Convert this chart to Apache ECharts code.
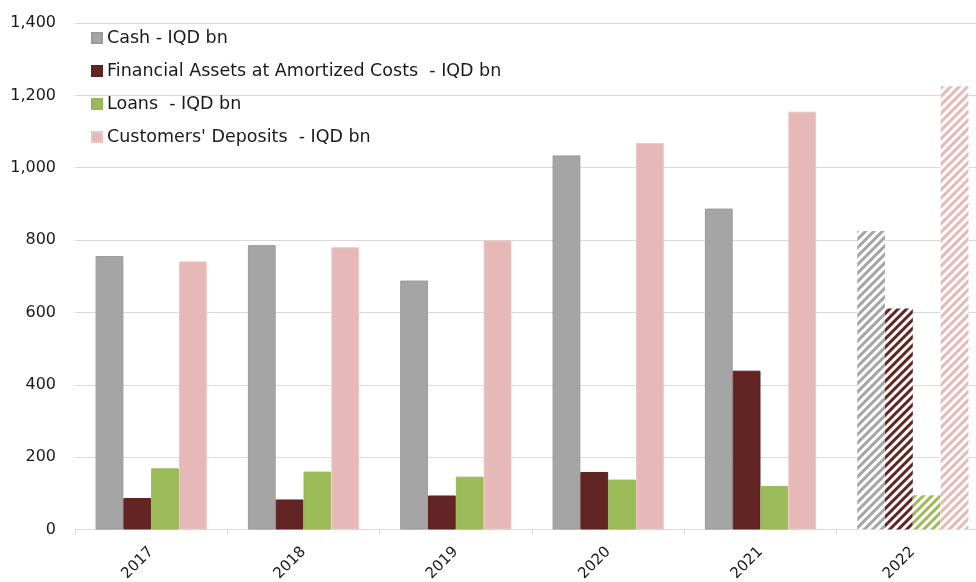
<!DOCTYPE html>
<html>
<head>
<meta charset="utf-8">
<script src="https://cdn.jsdelivr.net/npm/echarts@6/dist/echarts.min.js"></script>
<style>html,body{margin:0;padding:0;background:#fff}#c{width:976px;height:582px}</style>
</head>
<body>
<div id="c"></div>
<script>
const categories = ['2017', '2018', '2019', '2020', '2021', '2022'];
const seriesNames = ['Cash - IQD bn', 'Financial Assets at Amortized Costs  - IQD bn', 'Loans  - IQD bn', "Customers' Deposits  - IQD bn"];
const cashValues = [756, 786, 688, 1034, 887, 825];
const financialAssetsValues = [87, 83, 94, 159, 439, 611];
const loansValues = [169, 160, 146, 138, 120, 95];
const depositsValues = [741, 780, 799, 1068, 1155, 1225];
const hatchedCategory = '2022';
const colors = ['#a5a5a5', '#632523', '#9bbb59', '#e6b8b7'];
const borderColors = ['#9a9a9a', '#5e2220', '#98b857', '#ebc6c5'];

const FONT = 'DejaVu Sans';

function buildData(values, idx) {
  return values.map((v, i) => {
    if (categories[i] === hatchedCategory) {
      return {
        value: v,
        itemStyle: {
          color: '#ffffff',
          borderWidth: 0,
          decal: {
            symbol: 'rect',
            color: colors[idx],
            backgroundColor: '#ffffff',
            dashArrayX: [1, 0],
            dashArrayY: [3, 3],
            rotation: -Math.PI / 4
          }
        }
      };
    }
    return v;
  });
}

const allValues = [cashValues, financialAssetsValues, loansValues, depositsValues];

const chart = echarts.init(document.getElementById('c'), null, {renderer: 'canvas'});
chart.setOption({
  animation: false,
  backgroundColor: '#ffffff',
  textStyle: {fontFamily: FONT},
  grid: {left: 75, right: -13, top: 23, bottom: 52.5, containLabel: false, outerBoundsMode: 'none'},
  legend: {
    orient: 'vertical',
    left: 91,
    top: 29,
    padding: 0,
    itemWidth: 10,
    itemHeight: 10,
    itemGap: 15,
    icon: 'rect',
    textStyle: {fontFamily: FONT, fontSize: 17.5, color: '#1a1a1a', lineHeight: 17},
    data: seriesNames
  },
  xAxis: {
    type: 'category',
    data: categories,
    axisLine: {lineStyle: {color: '#d9d9d9', width: 1}},
    axisTick: {show: true, alignWithLabel: false, length: 5, lineStyle: {color: '#d9d9d9'}},
    axisLabel: {rotate: 45, margin: 20, fontFamily: FONT, fontSize: 15, color: '#1a1a1a'}
  },
  yAxis: {
    type: 'value',
    min: 0,
    max: 1400,
    interval: 200,
    axisLine: {show: false},
    axisTick: {show: false},
    splitLine: {lineStyle: {color: '#d9d9d9', width: 1}},
    axisLabel: {
      margin: 19,
      fontFamily: FONT,
      fontSize: 16,
      color: '#1a1a1a',
      formatter: v => v.toLocaleString('en-US')
    }
  },
  series: seriesNames.map((name, idx) => ({
    name: name,
    type: 'bar',
    barGap: '0%',
    barCategoryGap: '27%',
    itemStyle: {color: colors[idx], borderColor: borderColors[idx], borderWidth: 1},
    data: buildData(allValues[idx], idx)
  }))
});
</script>
</body>
</html>
